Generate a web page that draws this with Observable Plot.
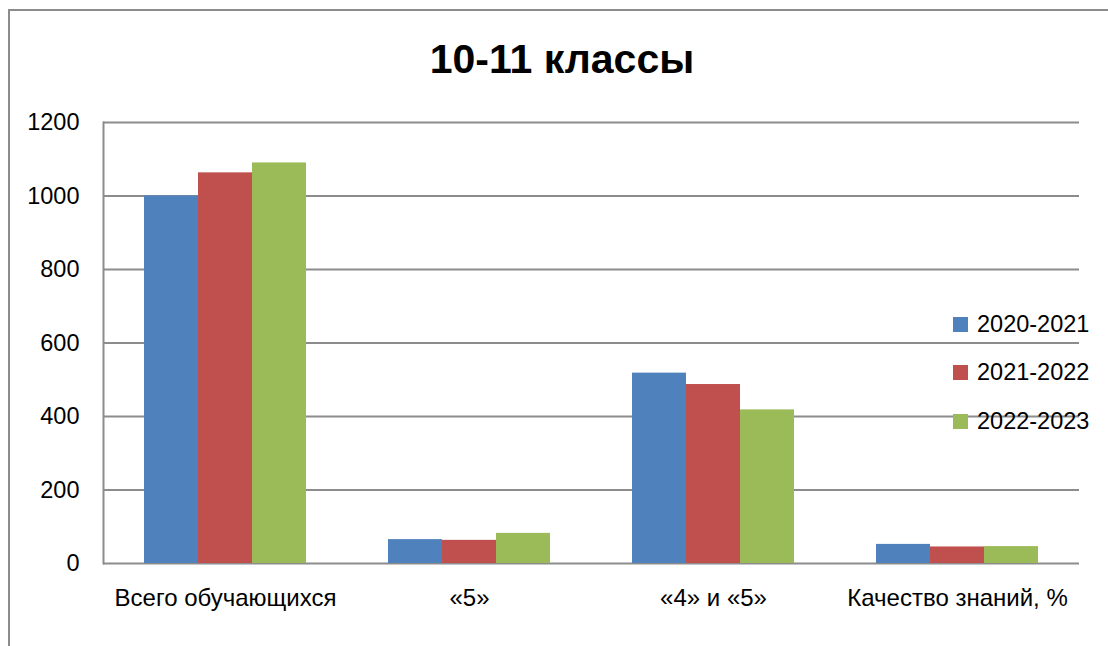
<!DOCTYPE html>
<html>
<head>
<meta charset="utf-8">
<script src="https://cdn.jsdelivr.net/npm/d3@7"></script>
<script src="https://cdn.jsdelivr.net/npm/@observablehq/plot@0.6"></script>
<style>
  html, body { margin: 0; padding: 0; background: #fff; }
  body { width: 1108px; height: 646px; position: relative; overflow: hidden; font-family: "Liberation Sans", Arial, sans-serif; }
  #frame { position: absolute; left: 8px; top: 9px; width: 1200px; height: 700px; border-left: 2px solid #8c8c8c; border-top: 2px solid #8c8c8c; box-sizing: border-box; }
  #title { position: absolute; left: 0; width: 1124px; top: 36px; text-align: center; font-size: 41px; font-weight: bold; color: #000; }
  .layer { position: absolute; left: 0; top: 100px; }
  #legend { position: absolute; left: 953px; top: 300px; font-size: 23.5px; color: #000; }
  .item { display: flex; align-items: center; height: 48.5px; }
  .sw { width: 15px; height: 15px; margin-right: 9px; }
</style>
</head>
<body>
<div id="frame"></div>
<div id="title">10-11 классы</div>
<div id="grid" class="layer"></div>
<div id="bars" class="layer"></div>
<div id="legend"></div>
<script>
const categories = ["Всего обучающихся", "«5»", "«4» и «5»", "Качество знаний, %"];
const series = ["2020-2021", "2021-2022", "2022-2023"];
const values2020 = [1000, 65, 518, 52];
const values2021 = [1063, 63, 487, 45];
const values2022 = [1090, 82, 418, 46];
const yTicks = [0, 200, 400, 600, 800, 1000, 1200];
const colors = ["#4F81BD", "#C0504D", "#9BBB59"];

const seriesValues = [values2020, values2021, values2022];
const data = [];
categories.forEach((c, i) => series.forEach((s, j) => data.push({category: c, series: s, value: seriesValues[j][i]})));

const W = 1108, H = 546;
const common = {
  width: W, height: H,
  marginLeft: 103, marginRight: 29, marginTop: 22, marginBottom: 83,
  style: {fontFamily: "'Liberation Sans', Arial, sans-serif", fontSize: "22px", color: "#000", background: "transparent", overflow: "visible"}
};
const bandOpts = {domain: categories, paddingInner: 0.337, paddingOuter: 0.1685};

const grid = Plot.plot({
  ...common,
  x: {type: "band", ...bandOpts, label: null, axis: null},
  y: {domain: [0, 1200], axis: null},
  marks: [
    Plot.ruleY(yTicks, {stroke: "#8c8c8c", strokeWidth: 2}),
    Plot.frame({anchor: "left", stroke: "#8c8c8c", strokeWidth: 2}),
    Plot.axisY(yTicks, {tickSize: 0, tickPadding: 24, fontSize: 23.5, label: null, tickFormat: d => String(d)}),
    Plot.axisX({tickSize: 0, tickPadding: 25, fontSize: 24, label: null})
  ]
});
document.getElementById("grid").appendChild(grid);

const bars = Plot.plot({
  ...common,
  fx: {...bandOpts, label: null, axis: null},
  x: {domain: series, padding: 0, axis: null},
  y: {domain: [0, 1200], axis: null},
  color: {domain: series, range: colors},
  marks: [
    Plot.barY(data, {fx: "category", x: "series", y: "value", fill: "series", insetLeft: 0, insetRight: 0})
  ]
});
document.getElementById("bars").appendChild(bars);

const legend = document.getElementById("legend");
series.forEach((s, j) => {
  const item = document.createElement("div");
  item.className = "item";
  const sw = document.createElement("div");
  sw.className = "sw";
  sw.style.background = colors[j];
  const t = document.createElement("span");
  t.textContent = s;
  item.appendChild(sw);
  item.appendChild(t);
  legend.appendChild(item);
});
</script>
</body>
</html>
